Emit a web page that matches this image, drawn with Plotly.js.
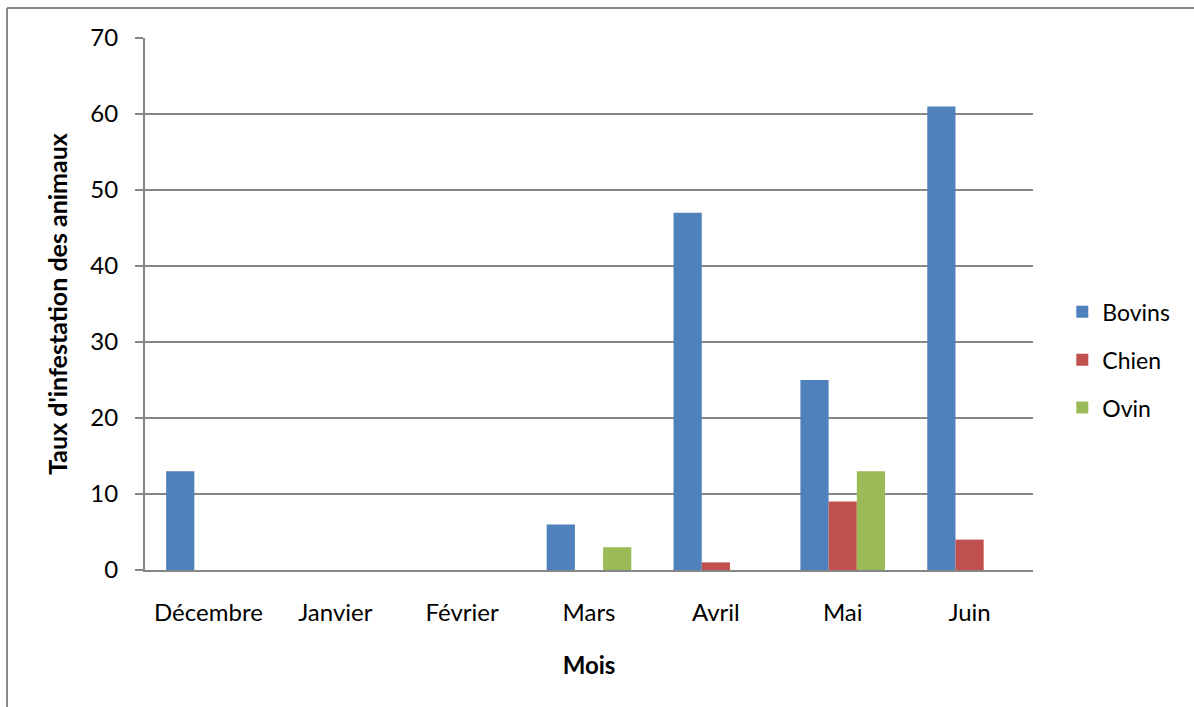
<!DOCTYPE html>
<html>
<head>
<meta charset="utf-8">
<script src="https://cdn.plot.ly/plotly-3.0.1.min.js"></script>
<style>html,body{margin:0;padding:0;background:#fff;} #chart{width:1194px;height:707px;}</style>
</head>
<body>
<div id="chart"></div>
<script>
const months = ["Décembre", "Janvier", "Février", "Mars", "Avril", "Mai", "Juin"];
const bovins = [13, 0, 0, 6, 47, 25, 61];
const chien = [0, 0, 0, 0, 1, 9, 4];
const ovin = [0, 0, 0, 3, 0, 13, 0];
const seriesNames = ["Bovins", "Chien", "Ovin"];
const seriesColors = ["#4F81BD", "#C0504D", "#9BBB59"];
const yTicks = [0, 10, 20, 30, 40, 50, 60, 70];

const FONT = "Lato, 'Open Sans', sans-serif";
const traces = [bovins, chien, ovin].map((vals, i) => ({
  type: "bar",
  name: seriesNames[i],
  x: months,
  y: vals,
  marker: {color: seriesColors[i]},
  legendgroup: "g" + i,
  hoverinfo: "x+y+name"
}));

const layout = {
  width: 1194, height: 707,
  margin: {l: 145, r: 161, t: 38, b: 137},
  paper_bgcolor: "#ffffff",
  plot_bgcolor: "#ffffff",
  font: {family: FONT, size: 24, color: "#000000"},
  barmode: "group",
  bargap: 0.333,
  bargroupgap: 0,
  showlegend: true,
  legend: {
    x: 1.033, xanchor: "left", y: 0.395, yanchor: "middle",
    font: {family: FONT, size: 23, color: "#000"},
    traceorder: "grouped", tracegroupgap: 15,
    itemwidth: 30, bgcolor: "rgba(0,0,0,0)"
  },
  xaxis: {
    type: "category",
    categoryorder: "array", categoryarray: months,
    showline: true, linecolor: "#868686", linewidth: 2,
    ticks: "", showgrid: false, zeroline: false,
    tickfont: {family: FONT, size: 24},
    ticklabelstandoff: 20,
    title: {text: "Mois", font: {family: FONT, size: 24, weight: "bold"}, standoff: 32}
  },
  yaxis: {
    range: [0, 70],
    tickvals: yTicks,
    ticktext: yTicks.map(String),
    showline: true, linecolor: "#868686", linewidth: 2,
    ticks: "outside", ticklen: 8, tickcolor: "#868686", tickwidth: 2,
    showgrid: true, gridcolor: "#868686", gridwidth: 1.5,
    zeroline: false,
    tickfont: {family: FONT, size: 24},
    ticklabelstandoff: 12,
    title: {text: "Taux d'infestation des animaux", font: {family: FONT, size: 25, weight: "bold"}, standoff: 16}
  },
  shapes: [
    {type: "line", xref: "paper", yref: "paper", x0: -0.1554, x1: 1.3, y0: 1.0564, y1: 1.0564, line: {color: "#888888", width: 2}},
    {type: "line", xref: "paper", yref: "paper", x0: -0.1554, x1: -0.1554, y0: 1.0564, y1: -0.3, line: {color: "#888888", width: 2}}
  ]
};

Plotly.newPlot("chart", traces, layout, {displayModeBar: false, staticPlot: true});
</script>
</body>
</html>
